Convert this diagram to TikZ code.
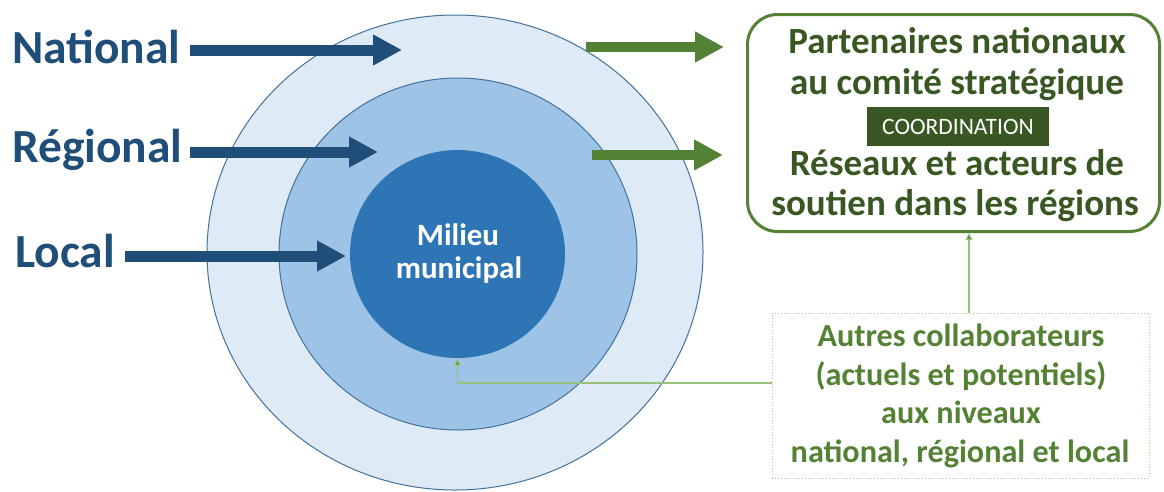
\documentclass[tikz,border=0pt]{standalone}
\usepackage{fontspec}
\setmainfont{Carlito}
\usetikzlibrary{arrows.meta,shapes.geometric,calc}
\definecolor{dblue}{HTML}{1F4E79}
\definecolor{ringline}{HTML}{41719C}
\definecolor{ringA}{HTML}{DEEBF7}
\definecolor{ringB}{HTML}{9DC3E6}
\definecolor{ringC}{HTML}{2E75B6}
\definecolor{gmid}{HTML}{548235}
\definecolor{gdark}{HTML}{385723}
\definecolor{glight}{HTML}{A9D18E}
\tikzset{
  ring/.style={ellipse, draw=ringline, line width=1pt, inner sep=0pt},
  levellabel/.style={anchor=base west, inner sep=0pt, text=dblue, font=\fontsize{47.5}{50}\selectfont\bfseries},
  bluearrow/.style={draw=dblue, line width=11pt, -{Triangle[length=29pt,width=29pt]}, fill=dblue},
  greenarrow/.style={draw=gmid, line width=10pt, -{Triangle[length=29pt,width=29pt]}, fill=gmid},
  gline/.style={anchor=base, inner sep=0pt, text=gdark, font=\fontsize{37}{41}\selectfont\bfseries},
  aline/.style={anchor=base, inner sep=0pt, text=gmid, font=\fontsize{32.2}{38}\selectfont\bfseries},
  mline/.style={anchor=base, inner sep=0pt, text=white, font=\fontsize{31}{33}\selectfont\bfseries},
  thinlink/.style={draw=glight!80!gmid, line width=1.2pt, -{Triangle[length=7pt,width=7pt,fill=gmid]}},
}
\begin{document}
\begin{tikzpicture}[x=1pt,y=-1pt]
\useasboundingbox (0,0) rectangle (1164,491);
% rings
\node[ring, fill=ringA, minimum width=496pt, minimum height=475pt] (outer) at (455,252.5) {};
\node[ring, fill=ringB, minimum width=358pt, minimum height=352pt] (middle) at (458,254) {};
\node[ring, fill=ringC, draw=none, minimum width=215pt, minimum height=208pt] (inner) at (457.5,254) {};
\node[mline] (mil1) at (458,245) {Milieu};
\node[mline] (mil2) at (459,278) {municipal};
% level labels
\node[levellabel] (nat) at (12,63) {National};
\node[levellabel] (reg) at (12,162) {Régional};
\node[levellabel] (loc) at (15,267) {Local};
\coordinate (natTip) at (402,50);
\coordinate (regTip) at (378,152);
\coordinate (locTip) at (346,256);
\draw[bluearrow] ($(nat.east|-natTip)+(9,0)$) -- (natTip);
\draw[bluearrow] ($(reg.east|-regTip)+(7,0)$) -- (regTip);
\draw[bluearrow] ($(loc.east|-locTip)+(10,0)$) -- (locTip);
% green box
\node[draw=gmid, line width=3pt, rounded corners=30pt, minimum width=412pt, minimum height=217pt, inner sep=0pt] (gbox) at (953.5,123) {};
\node[gline] (g1) at (957,53) {Partenaires nationaux};
\node[gline] (g2) at (957,94) {au comité stratégique};
\node[fill=gdark, text=white, minimum width=182pt, minimum height=39pt, inner sep=0pt, font=\fontsize{23.5}{26}\selectfont] (coord) at (958,126.5) {COORDINATION};
\node[gline] (g3) at (957,175) {Réseaux et acteurs de};
\node[gline] (g4) at (955,215) {soutien dans les régions};
% green arrows
\coordinate (gaS) at (586,47);
\coordinate (gaT) at (724,47);
\coordinate (gbS) at (592,155);
\coordinate (gbT) at (723,155);
\draw[greenarrow] (gaS) -- (gaT);
\draw[greenarrow] (gbS) -- (gbT);
% dotted box
\node[draw=glight, dotted, line width=1pt, minimum width=377pt, minimum height=165pt, inner sep=0pt] (dbox) at (960.5,395.5) {};
\node[aline] (a1) at (961,346) {Autres collaborateurs};
\node[aline] (a2) at (961,385) {(actuels et potentiels)};
\node[aline] (a3) at (961,423) {aux niveaux};
\node[aline] (a4) at (960,462) {national, régional et local};
% links
\coordinate (c1) at ($(dbox.north)+(8.5,0)$);
\draw[thinlink] (c1) -- (c1 |- gbox.south);
\coordinate (c2) at ($(dbox.west)+(0,-12.5)$);
\draw[thinlink] (c2) -| (inner.south);
\end{tikzpicture}
\end{document}
